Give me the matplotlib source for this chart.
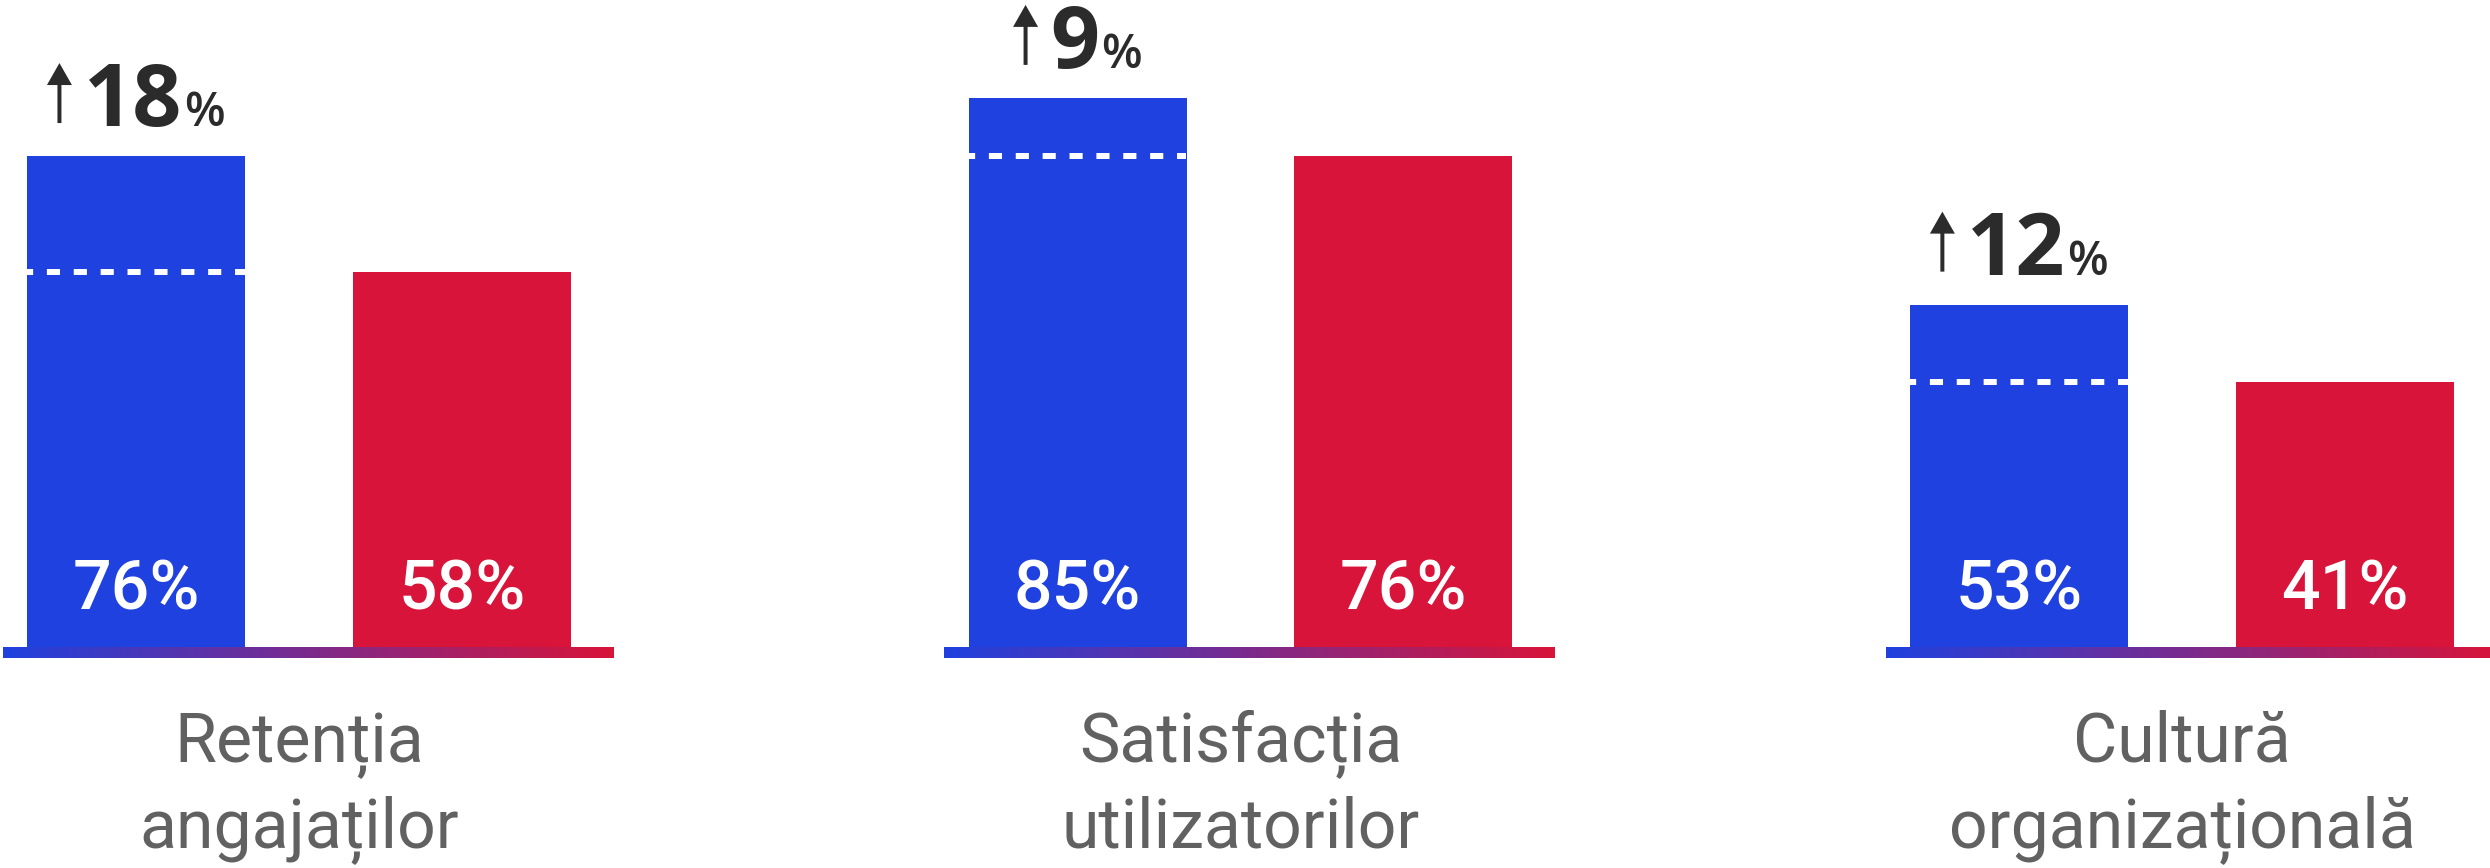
import matplotlib
matplotlib.use("Agg")
import matplotlib.pyplot as plt
import numpy as np
from matplotlib.colors import LinearSegmentedColormap

# ---------------- data ----------------
categories = ["Retenția\nangajaților", "Satisfacția\nutilizatorilor", "Cultură\norganizațională"]
new_values = [76, 85, 53]      # blue bars
old_values = [58, 76, 41]      # red bars
increase = [18, 9, 12]         # annotated increase (%)

# ---------------- style ----------------
BLUE = "#1F41DF"
RED = "#D8143A"
DARK = "#2B2B2B"
GREY = "#616161"

W, H, DPI = 2490, 868, 100
PX_X = 941.5      # pixels per group unit
PX_Y = 6.46       # pixels per percent
X0_PX = 299       # pixel x of first group centre
Y0_PX = 647       # pixel y (from top) of zero line


def px_x(p):
    return p / PX_X


def px_y(p):
    return p / PX_Y


fig = plt.figure(figsize=(W / DPI, H / DPI), dpi=DPI)
ax = fig.add_axes([0, 0, 1, 1])
ax.axis("off")

x = np.arange(len(categories))
bar_w = px_x(218)
off = px_x(163)

ax.bar(x - off, new_values, width=bar_w, color=BLUE, linewidth=0, zorder=2)
ax.bar(x + off, old_values, width=bar_w, color=RED, linewidth=0, zorder=2)

# gradient baselines
cmap = LinearSegmentedColormap.from_list("br", [BLUE, RED])
grad = np.linspace(0, 1, 256).reshape(1, -1)
for xi in x:
    ax.imshow(grad, extent=[xi - px_x(296), xi + px_x(315), -px_y(11), 0],
              aspect="auto", cmap=cmap, zorder=1, interpolation="bicubic")

# dashed reference lines in blue bars at red value
for xi, ov in zip(x, old_values):
    ax.hlines(ov, xi - off - bar_w / 2, xi - off + bar_w / 2, colors="white",
              linewidth=4.3, linestyles=(1.17, (2.2, 2.3)), zorder=3,
              capstyle="butt")

# value labels inside bars
for xi, nv, ov in zip(x, new_values, old_values):
    ax.text(xi - off, px_y(37), f"{nv}%", ha="center", va="baseline",
            color="white", fontsize=49, fontweight="medium", family="Roboto", zorder=4)
    ax.text(xi + off, px_y(37), f"{ov}%", ha="center", va="baseline",
            color="white", fontsize=49, fontweight="medium", family="Roboto", zorder=4)

# category labels
for xi, cat in zip(x, categories):
    for k, line in enumerate(cat.split("\n")):
        ax.text(xi, -px_y(115 + 85 * k), line, ha="center", va="baseline",
                color=GREY, fontsize=49, fontweight="normal", family="Roboto")

ax.set_xlim(-X0_PX / PX_X, (W - X0_PX) / PX_X)
ax.set_ylim(-(H - Y0_PX) / PX_Y, Y0_PX / PX_Y)

# increase annotations
fig.canvas.draw()
renderer = fig.canvas.get_renderer()
for xi, nv, inc in zip(x, new_values, increase):
    yb = nv + px_y(30)
    cx = xi - off
    t_num = ax.text(cx, yb, f"{inc}", ha="left", va="baseline", color=DARK,
                    fontsize=62, fontweight="bold", family="Open Sans")
    t_pct = ax.text(cx, yb, "%", ha="left", va="baseline", color=DARK,
                    fontsize=34, fontweight="semibold", family="Open Sans")
    w_num = t_num.get_window_extent(renderer).width
    w_pct = t_pct.get_window_extent(renderer).width
    head_w, gap1, gap2 = 25, 12, 2
    total = head_w + gap1 + w_num + gap2 + w_pct
    left = -total / 2
    t_num.set_x(cx + px_x(left + head_w + gap1))
    t_pct.set_x(cx + px_x(left + head_w + gap1 + w_num + gap2))
    ax.arrow(cx + px_x(left + head_w / 2), yb + px_y(3), 0, px_y(60),
             width=px_x(4), head_width=px_x(head_w), head_length=px_y(22),
             length_includes_head=True, color=DARK, linewidth=0, zorder=4)

fig.savefig("out.png", dpi=DPI, facecolor="white")
